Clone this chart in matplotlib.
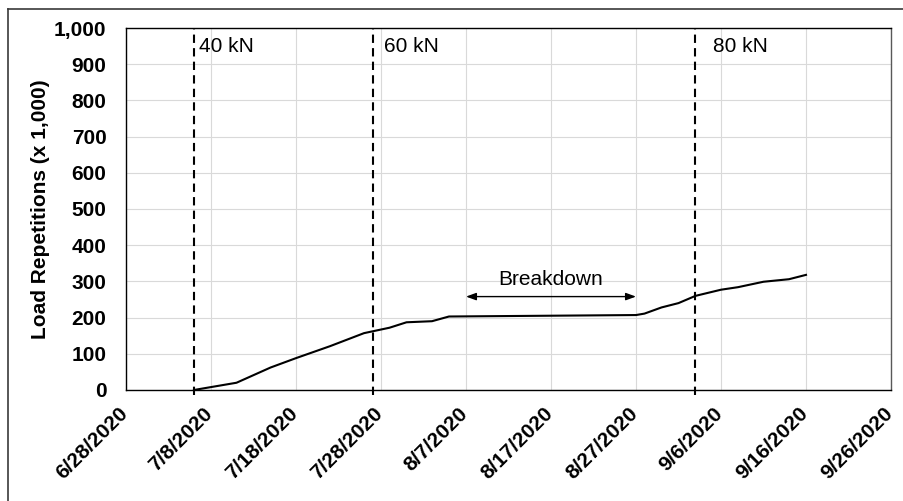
import pandas as pd
import matplotlib
matplotlib.use('Agg')
import matplotlib.pyplot as plt
import matplotlib.dates as mdates
import matplotlib.transforms as mtransforms
from matplotlib.lines import Line2D

# load repetitions (x 1,000)
dates = ['7/6/2020', '7/11/2020', '7/15/2020', '7/18/2020', '7/22/2020', '7/26/2020',
         '7/29/2020', '7/31/2020', '8/3/2020', '8/5/2020', '8/27/2020', '8/28/2020',
         '8/30/2020', '9/1/2020', '9/3/2020', '9/6/2020', '9/8/2020', '9/11/2020',
         '9/14/2020', '9/16/2020']
repetitions = [0, 20, 62, 88, 121, 157, 172, 187, 190, 203, 207, 211,
               228, 240, 260, 277, 284, 299, 306, 318]

# load level changes
load_dates = ['7/6/2020', '7/27/2020', '9/3/2020']
load_labels = ['40 kN', '60 kN', '80 kN']
label_dates = ['7/6/2020 14:00', '7/28/2020 08:00', '9/5/2020 02:00']

breakdown_start = '8/7/2020'
breakdown_end = '8/27/2020'
breakdown_level = 258

x_start = '6/28/2020'
x_end = '9/26/2020'

FS = 15

plt.rcParams['font.family'] = ['Liberation Sans', 'DejaVu Sans']

fig = plt.figure(figsize=(9.04, 5.01), dpi=100)
ax = fig.add_axes([0.1394, 0.2216, 0.8462, 0.7225])

x = pd.to_datetime(dates, format='%m/%d/%Y')
ax.plot(x, repetitions, color='black', lw=1.5, zorder=3)

for d, lab, ld in zip(load_dates, load_labels, label_dates):
    ax.axvline(pd.to_datetime(d, format='%m/%d/%Y'), ymin=-0.015, ymax=1, color='black',
               lw=1.5, dashes=(4, 2.5), clip_on=False, zorder=2)
    ax.text(pd.to_datetime(ld, format='%m/%d/%Y %H:%M'), 948, lab, fontsize=FS,
            ha='left', va='center')

b0 = pd.to_datetime(breakdown_start, format='%m/%d/%Y')
b1 = pd.to_datetime(breakdown_end, format='%m/%d/%Y')
ax.annotate('', xy=(b0, breakdown_level), xytext=(b1, breakdown_level),
            arrowprops=dict(arrowstyle='<|-|>,head_length=0.6,head_width=0.22',
                            color='black', lw=1, shrinkA=0, shrinkB=0))
ax.text(b0 + (b1 - b0) / 2, 304, 'Breakdown', fontsize=FS, ha='center', va='center')

x0 = pd.to_datetime(x_start, format='%m/%d/%Y')
x1 = pd.to_datetime(x_end, format='%m/%d/%Y')
ax.set_xlim(x0, x1)
ax.set_ylim(0, 1000)
ax.set_xticks(pd.date_range(x0, x1, freq='10D'))
ax.xaxis.set_major_formatter(plt.FuncFormatter(
    lambda v, pos: '{d.month}/{d.day}/{d.year}'.format(d=mdates.num2date(v))))
ax.set_yticks(range(0, 1001, 100))
ax.yaxis.set_major_formatter(plt.FuncFormatter(lambda v, pos: f'{int(v):,}'))

ax.grid(True, color='#d9d9d9', lw=0.8)
ax.set_axisbelow(True)
ax.tick_params(axis='both', length=0, labelsize=FS)
ax.tick_params(axis='y', pad=14)
ax.tick_params(axis='x', pad=10)
shift = mtransforms.ScaledTranslation(-8 / 100, 0, fig.dpi_scale_trans)
for lab in ax.get_xticklabels():
    lab.set_rotation(45)
    lab.set_ha('right')
    lab.set_rotation_mode('anchor')
    lab.set_fontweight('bold')
    lab.set_transform(lab.get_transform() + shift)
for lab in ax.get_yticklabels():
    lab.set_fontweight('bold')
for s in ax.spines.values():
    s.set_color('black')
    s.set_linewidth(1.0)
ax.spines['right'].set_color('#595959')

ax.set_ylabel('Load Repetitions (x 1,000)', fontsize=FS, fontweight='bold')
ax.yaxis.set_label_coords(-0.099, 0.5)

# outer chart frame (only the left and top edges are inside the image)
fig.add_artist(Line2D([0.0089, 0.0089], [0, 0.982], color='#3a3a3a', lw=1.2))
fig.add_artist(Line2D([0.0089, 1.0], [0.982, 0.982], color='#3a3a3a', lw=1.2))

fig.savefig('out.png', dpi=100)
